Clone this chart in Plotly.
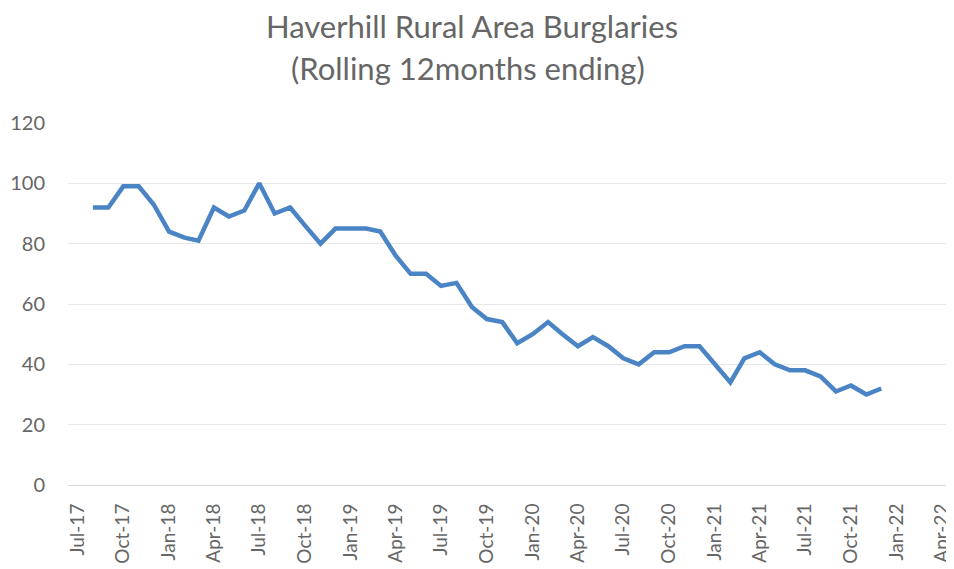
import plotly.graph_objects as go
import pandas as pd

months = pd.date_range("2017-08-01", "2021-12-01", freq="MS")
burglaries = [92, 92, 99, 99, 93,
              84, 82, 81, 92, 89, 91, 100, 90, 92, 86, 80, 85,
              85, 85, 84, 76, 70, 70, 66, 67, 59, 55, 54, 47,
              50, 54, 50, 46, 49, 46, 42, 40, 44, 44, 46, 46,
              40, 34, 42, 44, 40, 38, 38, 36, 31, 33, 30, 32]

title_lines = ["Haverhill Rural Area Burglaries", "(Rolling 12months ending)"]

fig = go.Figure()
fig.add_trace(go.Scatter(
    x=months, y=burglaries, mode="lines",
    line=dict(color="#4A84C4", width=4.5),
    hoverinfo="x+y", showlegend=False,
))

grey = "#666666"
OFF = 8  # page body margin
W, H = 954 - OFF, 569 - OFF
L, R, T, B = 68 - OFF, 4, 123 - OFF, 84
pw, ph = W - L - R, H - T - B
fig.update_layout(
    width=W, height=H,
    margin=dict(l=L, r=R, t=T, b=B, autoexpand=False),
    paper_bgcolor="white", plot_bgcolor="white",
    font=dict(family="Lato, 'Open Sans', sans-serif", color=grey),
)
for line, px, py in zip(title_lines, [472, 468], [26, 68]):
    fig.add_annotation(
        text=line, xref="paper", yref="paper",
        x=(px - OFF - L) / pw, y=(H - B - (py - OFF)) / ph,
        xanchor="center", yanchor="middle", showarrow=False,
        font=dict(size=31, color=grey, family="Lato, sans-serif"),
    )
fig.update_xaxes(
    type="date", automargin=False,
    range=["2017-06-12", "2022-04-18"],
    tick0="2017-07-01", dtick="M3", tickformat="%b-%y",
    tickangle=-90, tickfont=dict(size=19, color=grey),
    ticklabeloverflow="allow",
    showgrid=False, showline=True, linecolor="#d9d9d9", linewidth=1,
    ticks="", ticklabelstandoff=10, zeroline=False,
)
fig.update_yaxes(
    range=[0, 120], tick0=0, dtick=20, automargin=False,
    tickfont=dict(size=20, color=grey),
    showgrid=True, gridcolor="#e8e8e8", gridwidth=1,
    zeroline=False, showline=False, ticks="", ticklabelstandoff=22,
)

fig.write_html("out.html")
